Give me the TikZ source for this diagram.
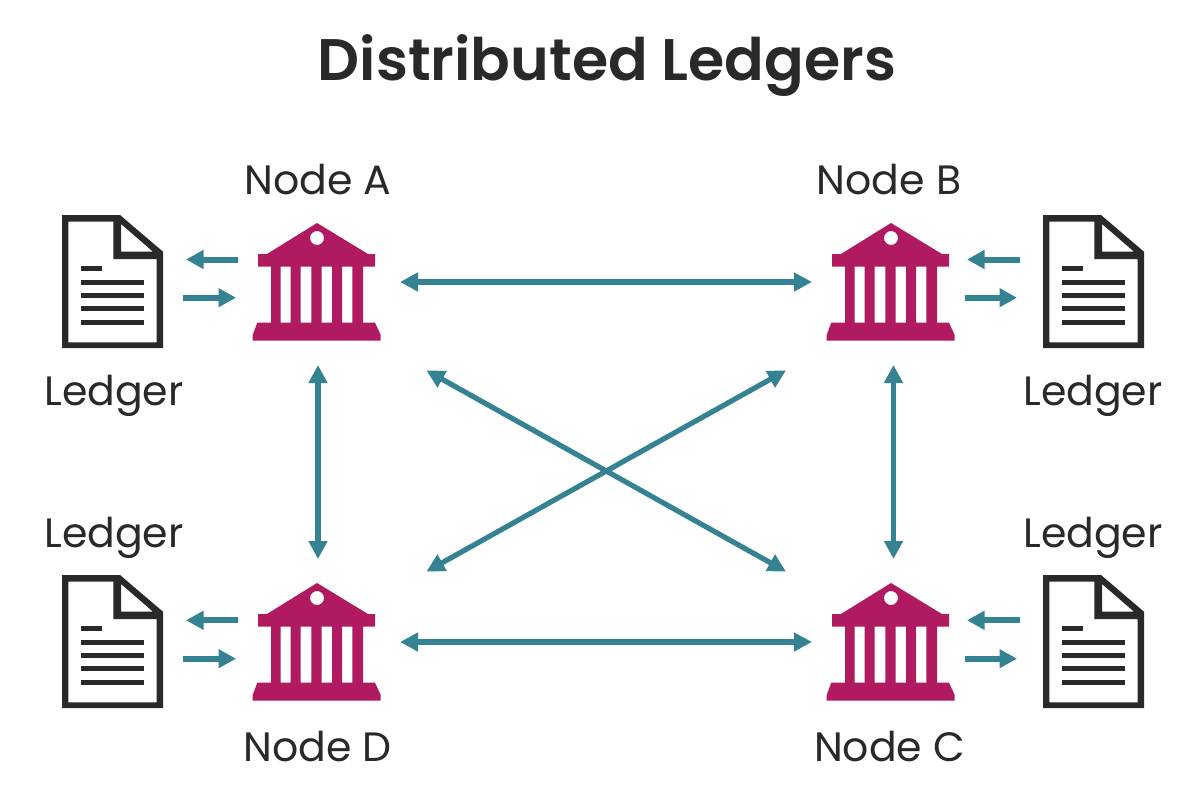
\documentclass[tikz,border=0pt]{standalone}
\usepackage{fontspec}
\usetikzlibrary{arrows.meta}
\setmainfont{Poppins}
\newfontfamily\titlefont[UprightFont=* SemiBold]{Poppins}
\definecolor{ink}{HTML}{292929}
\definecolor{bankcol}{HTML}{AF1A60}
\definecolor{arrowcol}{HTML}{358293}
\newcommand{\BankShape}[1]{%
  \begin{scope}[shift={(#1)}]
  \fill[bankcol,even odd rule]
    (0,-59) -- (51,-28) -- (58,-28) -- (58,-15.3) -- (46,-15.3) -- (46,40.7) -- (58,40.7)
    -- (63.7,53) -- (63.7,58.7) -- (-64.3,58.7) -- (-64.3,53) -- (-59.7,40.7) -- (-46,40.7)
    -- (-46,-15.3) -- (-59,-15.3) -- (-59,-28) -- (-50,-28) -- cycle
    (0,-44) circle[radius=7]
    (-36.3,-15.3) rectangle (-26.3,40.7)
    (-16.3,-15.3) rectangle (-5.7,40.7)
    (4.7,-15.3) rectangle (15,40.7)
    (25,-15.3) rectangle (35.3,40.7);
  \end{scope}}
\newcommand{\DocShape}[1]{%
  \begin{scope}[shift={(#1)}]
  \fill[ink,even odd rule]
    (-50.5,-66.5) -- (7.5,-66.5) -- (50.5,-29.8) -- (50.5,66.5) -- (-50.5,66.5) -- cycle
    (-44.2,-59.8) -- (0.8,-59.8) -- (0.8,-22.5) -- (44.2,-22.5) -- (44.2,60.8) -- (-44.2,60.8) -- cycle
    (8.5,-57.5) -- (8.5,-29.8) -- (40.5,-29.8) -- cycle;
  \draw[ink,line width=5] (-31.5,-13.5) -- (-10.5,-13.5)
    (-31.5,0.5) -- (31.5,0.5) (-31.5,13.5) -- (31.5,13.5)
    (-31.5,27) -- (31.5,27) (-31.5,40.5) -- (31.5,40.5);
  \end{scope}}
\tikzset{
  conn/.style={arrowcol,line width=5.5,{Triangle[length=18pt,width=18pt]}-{Triangle[length=18pt,width=18pt]}},
  diag/.style={arrowcol,line width=5.2,{Triangle[length=18pt,width=18pt]}-{Triangle[length=18pt,width=18pt]}},
  shortarr/.style={arrowcol,line width=6,-{Triangle[length=17.5pt,width=18pt]}},
  lbl/.style={text=ink,font=\fontsize{41}{48}\selectfont,inner sep=0,anchor=base},
  ttl/.style={text=ink,font=\titlefont\fontsize{58.6}{70}\selectfont,inner sep=0,anchor=base},
  banknode/.style={minimum width=128pt,minimum height=118pt,inner sep=0},
  docnode/.style={minimum width=101pt,minimum height=133pt,inner sep=0}
}
\begin{document}
\begin{tikzpicture}[x=1pt,y=-1pt]
\useasboundingbox (0,0) rectangle (1200,800);
\fill[white] (0,0) rectangle (1200,800);
\node[ttl] (title) at (607,81) {Distributed Ledgers};

\node[banknode] (bankA) at (317,282) {};
\node[banknode] (bankB) at (891,282) {};
\node[banknode] (bankC) at (891,642) {};
\node[banknode] (bankD) at (317,642) {};
\BankShape{317,282}\BankShape{891,282}\BankShape{891,642}\BankShape{317,642}

\node[docnode] (docA) at (112.5,281.5) {};
\node[docnode] (docB) at (1093.5,281.5) {};
\node[docnode] (docC) at (1093.5,641.5) {};
\node[docnode] (docD) at (112.5,641.5) {};
\DocShape{112.5,281.5}\DocShape{1093.5,281.5}\DocShape{1093.5,641.5}\DocShape{112.5,641.5}

\node[lbl] (nameA) at (318,194) {Node A};
\node[lbl] (nameB) at (889,194) {Node B};
\node[lbl] (nameD) at (317.5,761) {Node D};
\node[lbl] (nameC) at (889.5,761) {Node C};
\node[lbl] (ledgerA) at (114,405.5) {Ledger};
\node[lbl] (ledgerB) at (1093,405.5) {Ledger};
\node[lbl] (ledgerD) at (114,547.5) {Ledger};
\node[lbl] (ledgerC) at (1093,547.5) {Ledger};

% connector ends
\coordinate (AE) at (400,282);  \coordinate (BW) at (812,282);
\coordinate (DE) at (400,642);  \coordinate (CW) at (812,642);
\coordinate (AS) at (318,365);  \coordinate (DN) at (318,559);
\coordinate (BS) at (893.5,365);\coordinate (CN) at (893.5,559);
\coordinate (ASE) at (426.5,370.5); \coordinate (CNW) at (786,571.5);
\coordinate (BSW) at (786,370.5); \coordinate (DNE) at (426.5,571.5);
\draw[conn] (AE) -- (BW);
\draw[conn] (DE) -- (CW);
\draw[conn] (AS) -- (DN);
\draw[conn] (BS) -- (CN);
\draw[diag] (ASE) -- (CNW);
\draw[diag] (BSW) -- (DNE);

\coordinate (a1) at (238,259.5);  \coordinate (a2) at (186,259.5);
\coordinate (a3) at (183,297.7);  \coordinate (a4) at (236,297.7);
\coordinate (d1) at (238,620.3);  \coordinate (d2) at (186,620.3);
\coordinate (d3) at (183,658.7);  \coordinate (d4) at (236,658.7);
\coordinate (b1) at (1020,259.5); \coordinate (b2) at (967,259.5);
\coordinate (b3) at (965,297.7);  \coordinate (b4) at (1017,297.7);
\coordinate (c1) at (1020,620.3); \coordinate (c2) at (967,620.3);
\coordinate (c3) at (965,658.7);  \coordinate (c4) at (1017,658.7);
\foreach \p/\q in {a1/a2,a3/a4,d1/d2,d3/d4,b1/b2,b3/b4,c1/c2,c3/c4}
  \draw[shortarr] (\p) -- (\q);
\end{tikzpicture}
\end{document}
